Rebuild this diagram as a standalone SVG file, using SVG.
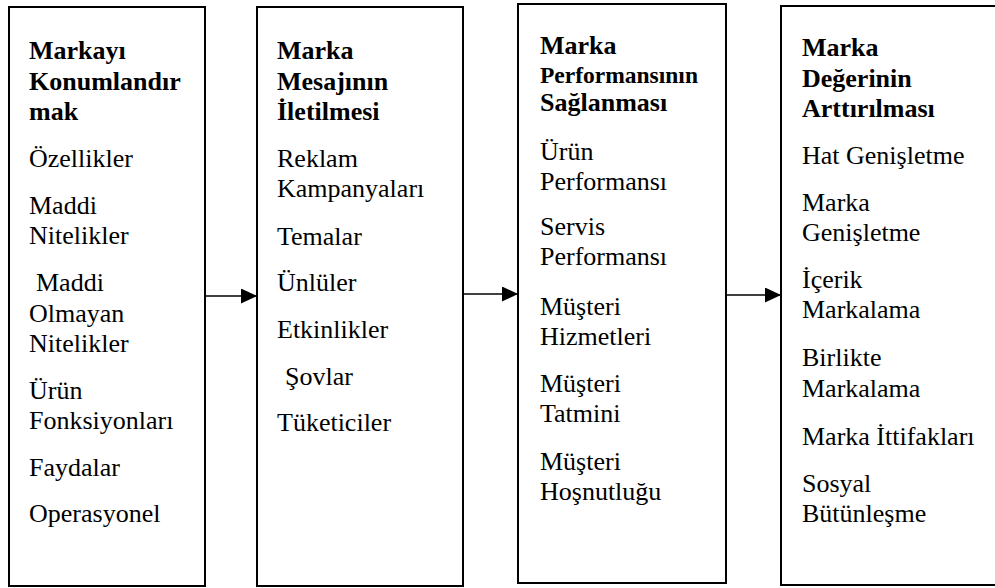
<svg xmlns="http://www.w3.org/2000/svg" width="995" height="588" viewBox="0 0 995 588">
<style>
.box{fill:#fff;stroke:#000;stroke-width:2}
.t{font-family:'Liberation Serif','Times New Roman',serif;font-size:26px;fill:#000}
.h{font-weight:bold}
.hs{font-weight:bold;font-size:23.5px}
.conn line{stroke:#000;stroke-width:1.4}
</style>
<defs>
<marker id="ah" markerUnits="userSpaceOnUse" markerWidth="16" markerHeight="15" refX="16" refY="7.5" orient="auto">
<path d="M0,0 L16,7.5 L0,15 z" fill="#000"/>
</marker>
</defs>
<rect width="995" height="588" fill="#fff"/>
<g id="node1" class="t">
<rect class="box" x="9" y="7" width="196" height="579"/>
<text class="h" x="29" y="59">Markayı</text>
<text class="h" x="29" y="90">Konumlandır</text>
<text class="h" x="29" y="120">mak</text>
<text x="29" y="167">Özellikler</text>
<text x="29" y="214">Maddi</text>
<text x="29" y="244">Nitelikler</text>
<text x="36" y="291">Maddi</text>
<text x="29" y="322">Olmayan</text>
<text x="29" y="352">Nitelikler</text>
<text x="29" y="399">Ürün</text>
<text x="29" y="429">Fonksiyonları</text>
<text x="29" y="476">Faydalar</text>
<text x="29" y="522">Operasyonel</text>
</g>
<g id="node2" class="t">
<rect class="box" x="257" y="7" width="206" height="579"/>
<text class="h" x="277" y="59">Marka</text>
<text class="h" x="277" y="90">Mesajının</text>
<text class="h" x="277" y="120">İletilmesi</text>
<text x="277" y="167">Reklam</text>
<text x="277" y="197">Kampanyaları</text>
<text x="277" y="245">Temalar</text>
<text x="277" y="291">Ünlüler</text>
<text x="277" y="338">Etkinlikler</text>
<text x="285" y="385">Şovlar</text>
<text x="277" y="431">Tüketiciler</text>
</g>
<g id="node3" class="t">
<rect class="box" x="518" y="4" width="208" height="579"/>
<text class="h" x="540" y="54">Marka</text>
<text class="hs" x="540" y="83">Performansının</text>
<text class="h" x="540" y="111">Sağlanması</text>
<text x="540" y="160">Ürün</text>
<text x="540" y="190">Performansı</text>
<text x="540" y="235">Servis</text>
<text x="540" y="265">Performansı</text>
<text x="540" y="315">Müşteri</text>
<text x="540" y="345">Hizmetleri</text>
<text x="540" y="392">Müşteri</text>
<text x="540" y="422">Tatmini</text>
<text x="540" y="470">Müşteri</text>
<text x="540" y="500">Hoşnutluğu</text>
</g>
<g id="node4" class="t">
<rect class="box" x="781" y="6" width="230" height="579"/>
<text class="h" x="802" y="56">Marka</text>
<text class="h" x="802" y="87">Değerinin</text>
<text class="h" x="802" y="117">Arttırılması</text>
<text x="802" y="164">Hat Genişletme</text>
<text x="802" y="211">Marka</text>
<text x="802" y="241">Genişletme</text>
<text x="802" y="288">İçerik</text>
<text x="802" y="318">Markalama</text>
<text x="802" y="366">Birlikte</text>
<text x="802" y="397">Markalama</text>
<text x="802" y="445">Marka İttifakları</text>
<text x="802" y="492">Sosyal</text>
<text x="802" y="522">Bütünleşme</text>
</g>
<g id="connectors" class="conn">
<line x1="205" y1="296" x2="257" y2="296" marker-end="url(#ah)"/>
<line x1="463" y1="294" x2="518" y2="294" marker-end="url(#ah)"/>
<line x1="726" y1="295" x2="781" y2="295" marker-end="url(#ah)"/>
</g>
</svg>
